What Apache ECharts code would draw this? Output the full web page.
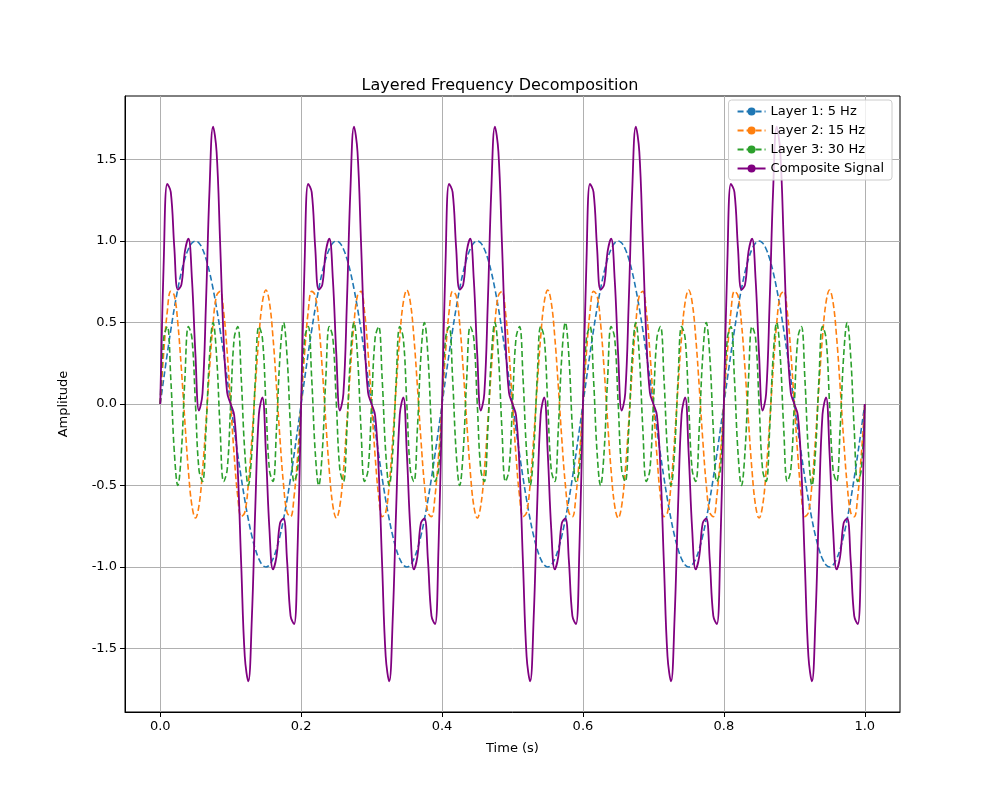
<!DOCTYPE html>
<html>
<head>
<meta charset="utf-8">
<script src="https://cdn.jsdelivr.net/npm/echarts@6/dist/echarts.min.js"></script>
<style>html,body{margin:0;padding:0;background:#fff}#main{width:1000px;height:800px}</style>
</head>
<body>
<div id="main"></div>
<script>
// one 0.2 s period, read every 0.005 s (the picture repeats it 5 times)
var step = 0.005;
var layer1 = [0,0.1564,0.3090,0.4540,0.5878,0.7071,0.8090,0.8910,0.9511,0.9877,1,0.9877,0.9511,0.8910,0.8090,0.7071,0.5878,0.4540,0.3090,0.1564,
  0,-0.1564,-0.3090,-0.4540,-0.5878,-0.7071,-0.8090,-0.8910,-0.9511,-0.9877,-1,-0.9877,-0.9511,-0.8910,-0.8090,-0.7071,-0.5878,-0.4540,-0.3090,-0.1564];
var layer2 = [0,0.3178,0.5663,0.6914,0.6658,0.4950,0.2163,-0.1095,-0.4115,-0.6237,-0.7,-0.6237,-0.4115,-0.1095,0.2163,0.4950,0.6658,0.6914,0.5663,0.3178,
  0,-0.3178,-0.5663,-0.6914,-0.6658,-0.4950,-0.2163,0.1095,0.4115,0.6237,0.7,0.6237,0.4115,0.1095,-0.2163,-0.4950,-0.6658,-0.6914,-0.5663,-0.3178];
var layer3 = [0,0.4045,0.4755,0.1545,-0.2939,-0.5,-0.2939,0.1545,0.4755,0.4045,0,-0.4045,-0.4755,-0.1545,0.2939,0.5,0.2939,-0.1545,-0.4755,-0.4045,
  0,0.4045,0.4755,0.1545,-0.2939,-0.5,-0.2939,0.1545,0.4755,0.4045,0,-0.4045,-0.4755,-0.1545,0.2939,0.5,0.2939,-0.1545,-0.4755,-0.4045];
var composite = [0,0.8787,1.3508,1.2999,0.9597,0.7021,0.7314,0.9360,1.0151,0.7685,0.3,-0.0405,0.0641,0.6270,1.3192,1.7021,1.5475,0.9909,0.3998,0.0697,
  0,-0.0697,-0.3998,-0.9909,-1.5475,-1.7021,-1.3192,-0.6270,-0.0641,0.0405,-0.3,-0.7685,-1.0151,-0.9360,-0.7314,-0.7021,-0.9597,-1.2999,-1.3508,-0.8787];
var periods = 5;
var xTicks = [0, 0.2, 0.4, 0.6, 0.8, 1.0];
var yTicks = [-1.5, -1.0, -0.5, 0, 0.5, 1.0, 1.5];

function build(arr) {
  var out = [];
  for (var p = 0; p < periods; p++) {
    for (var k = 0; k < arr.length; k++) {
      out.push([+(p * arr.length * step + k * step).toFixed(4), arr[k]]);
    }
  }
  out.push([1.0, 0]);
  return out;
}

var font = 'DejaVu Sans';
var myChart = echarts.init(document.getElementById('main'));
function series(name, arr, color, type, width) {
  return {
    name: name, type: 'line', data: build(arr), symbol: 'none', smooth: 0.4,
    lineStyle: {color: color, width: width, type: type}, itemStyle: {color: color}
  };
}
var option = {
  animation: false,
  textStyle: {fontFamily: font},
  title: {text: 'Layered Frequency Decomposition', left: 'center', top: 73,
    textStyle: {fontFamily: font, fontSize: 16, fontWeight: 'normal', color: '#000'}},
  grid: {left: 125, right: 100, top: 96, bottom: 88, show: true, borderColor: '#000', borderWidth: 1},
  legend: {
    orient: 'vertical', right: 108, top: 100, itemWidth: 28, itemHeight: 10, itemGap: 6,
    backgroundColor: 'rgba(255,255,255,0.8)', borderColor: '#ccc', borderWidth: 1, borderRadius: 3, padding: [5, 8],
    textStyle: {fontFamily: font, fontSize: 13, color: '#000'},
    data: ['Layer 1: 5 Hz', 'Layer 2: 15 Hz', 'Layer 3: 30 Hz', 'Composite Signal']
  },
  xAxis: {
    type: 'value', min: -0.05, max: 1.05, name: 'Time (s)', nameLocation: 'middle', nameGap: 30,
    nameTextStyle: {fontFamily: font, fontSize: 13, color: '#000'},
    axisLine: {onZero: false, lineStyle: {color: '#000'}},
    axisTick: {show: true, customValues: xTicks, lineStyle: {color: '#000'}},
    axisLabel: {customValues: xTicks, fontFamily: font, fontSize: 13, color: '#000',
      formatter: function (v) { return v.toFixed(1); }},
    splitLine: {show: true, lineStyle: {color: '#b0b0b0'}}
  },
  yAxis: {
    type: 'value', min: -1.89, max: 1.89, name: 'Amplitude', nameLocation: 'middle', nameGap: 55,
    nameTextStyle: {fontFamily: font, fontSize: 13, color: '#000'},
    axisLine: {show: true, onZero: false, lineStyle: {color: '#000'}},
    axisTick: {show: true, customValues: yTicks, lineStyle: {color: '#000'}},
    axisLabel: {customValues: yTicks, fontFamily: font, fontSize: 13, color: '#000',
      formatter: function (v) { return v.toFixed(1); }},
    splitLine: {show: true, lineStyle: {color: '#b0b0b0'}}
  },
  series: [
    series('Layer 1: 5 Hz', layer1, '#1f77b4', [6, 3], 1.6),
    series('Layer 2: 15 Hz', layer2, '#ff7f0e', [6, 3], 1.6),
    series('Layer 3: 30 Hz', layer3, '#2ca02c', [6, 3], 1.6),
    series('Composite Signal', composite, '#800080', 'solid', 1.8)
  ]
};
option && myChart.setOption(option);
</script>
</body>
</html>
